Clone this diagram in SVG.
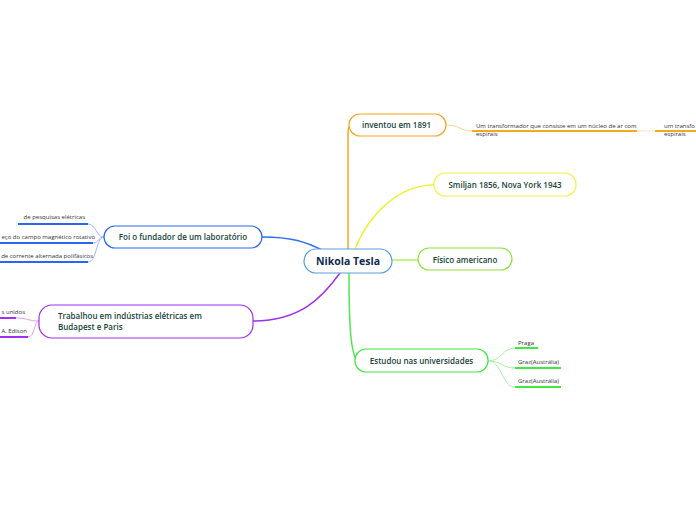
<svg xmlns="http://www.w3.org/2000/svg" width="696" height="520" viewBox="0 0 696 520">
<style>
.lbl{font-family:"Open Sans","Noto Sans",sans-serif;font-size:8px;font-weight:600;fill:#17443a}
.sm{font-family:"Open Sans","Noto Sans",sans-serif;font-size:6px;fill:#333}
.nd{fill:#fff;stroke-width:1.2}
.c{fill:none;stroke-width:1.5}
.cc{fill:none;stroke-width:1}
.ul{fill:none;stroke-width:2}
</style>
<rect width="696" height="520" fill="#fff"/>
<g id="connectors">
<path class="c" d="M348,249 V133 Q348,125 352,125" stroke="#f5a623"/>
<path class="c" d="M355,249 C370,212 400,185 434,185" stroke="#f0f040"/>
<path class="c" d="M392,260 H418" stroke="#b0f060"/>
<path class="c" d="M349,273 C349,330 351,352 357,361" stroke="#50e850"/>
<path class="c" d="M262,237 C292,237 306,242 322,250" stroke="#3070f0"/>
<path class="c" d="M253,321 C300,321 322,298 340,273" stroke="#a030f0"/>
<path class="cc" d="M446,125 C460,125 460,131 472,131" stroke="#fad39a"/>
<path class="cc" d="M637,131 H655" stroke="#fde3bd"/>
<path class="cc" d="M488,361 C502,361 502,348 515,348" stroke="#a8f0a8"/>
<path class="cc" d="M488,361 C502,361 502,368 515,368" stroke="#a8f0a8"/>
<path class="cc" d="M488,361 C502,361 502,387 515,387" stroke="#a8f0a8"/>
<path class="cc" d="M104,237 C96,237 96,224 88,224" stroke="#a0b8f8"/>
<path class="cc" d="M104,237 C98,237 99,243 93,243" stroke="#a0b8f8"/>
<path class="cc" d="M104,237 C96,237 97,262 88,262" stroke="#a0b8f8"/>
<path class="cc" d="M39,321 C28,321 28,318 16,318" stroke="#d8a0f8"/>
<path class="cc" d="M39,321 C34,321 35,337 28,337" stroke="#d8a0f8"/>
</g>
<g id="center">
<rect class="nd" x="304" y="249" width="88" height="24" rx="12" stroke="#5aa0e0"/>
<text x="348" y="264.5" text-anchor="middle" style="font-family:'Open Sans','Noto Sans',sans-serif;font-size:10.5px;font-weight:700;fill:#102a50">Nikola Tesla</text>
</g>
<g id="inventou">
<rect class="nd" x="349" y="114" width="97" height="22" rx="11" stroke="#f5a623"/>
<text class="lbl" x="362" y="128">inventou em 1891</text>
</g>
<g id="transformador1">
<path class="ul" d="M472,131 H637" stroke="#f5a623"/>
<text class="sm" x="476" y="128">Um transformador que consiste em um núcleo de ar com</text>
<text class="sm" x="476" y="136">espirais</text>
</g>
<g id="transformador2">
<path class="ul" d="M655,131 H696" stroke="#f5a623"/>
<text class="sm" x="664" y="128">um transfo</text>
<text class="sm" x="664" y="136">espirais</text>
</g>
<g id="smiljan">
<rect class="nd" x="434" y="173" width="142" height="23" rx="11" stroke="#f0f050"/>
<text class="lbl" x="505" y="188" text-anchor="middle">Smiljan 1856, Nova York 1943</text>
</g>
<g id="fisico">
<rect class="nd" x="418" y="248" width="94" height="22" rx="11" stroke="#90e040"/>
<text class="lbl" x="465" y="262.5" text-anchor="middle">Físico americano</text>
</g>
<g id="estudou">
<rect class="nd" x="355" y="349" width="133" height="23" rx="11" stroke="#40e840"/>
<text class="lbl" x="421.5" y="363.5" text-anchor="middle">Estudou nas universidades</text>
</g>
<g id="praga">
<path class="ul" d="M515,348 H538" stroke="#40e840"/>
<text class="sm" x="518" y="345">Praga</text>
</g>
<g id="graz1">
<path class="ul" d="M515,368 H561" stroke="#40e840"/>
<text class="sm" x="518" y="364">Graz(Austrália)</text>
</g>
<g id="graz2">
<path class="ul" d="M515,387 H561" stroke="#40e840"/>
<text class="sm" x="518" y="383">Graz(Austrália)</text>
</g>
<g id="fundador">
<rect class="nd" x="104" y="226" width="158" height="22" rx="11" stroke="#2a66f0"/>
<text class="lbl" x="183" y="240" text-anchor="middle">Foi o fundador de um laboratório</text>
</g>
<g id="pesquisas">
<path class="ul" d="M18,224 H88" stroke="#2a66f0"/>
<text class="sm" x="85" y="219" text-anchor="end">de pesquisas elétricas</text>
</g>
<g id="campo">
<path class="ul" d="M0,243 H93" stroke="#2a66f0"/>
<text class="sm" x="95" y="239" text-anchor="end">eço do campo magnético rotativo</text>
</g>
<g id="corrente">
<path class="ul" d="M0,262 H88" stroke="#2a66f0"/>
<text class="sm" x="93" y="258" text-anchor="end">de corrente alternada polifásicos</text>
</g>
<g id="trabalhou">
<rect class="nd" x="39" y="305" width="214" height="33" rx="13" stroke="#a030f0"/>
<text class="lbl" x="58" y="319">Trabalhou em indústrias elétricas em</text>
<text class="lbl" x="58" y="330">Budapest e Paris</text>
</g>
<g id="unidos">
<path class="ul" d="M0,318 H16" stroke="#a030f0"/>
<text class="sm" x="25" y="314" text-anchor="end">s unidos</text>
</g>
<g id="edison">
<path class="ul" d="M0,337 H28" stroke="#a030f0"/>
<text class="sm" x="27" y="333" text-anchor="end">A. Edison</text>
</g>
</svg>
